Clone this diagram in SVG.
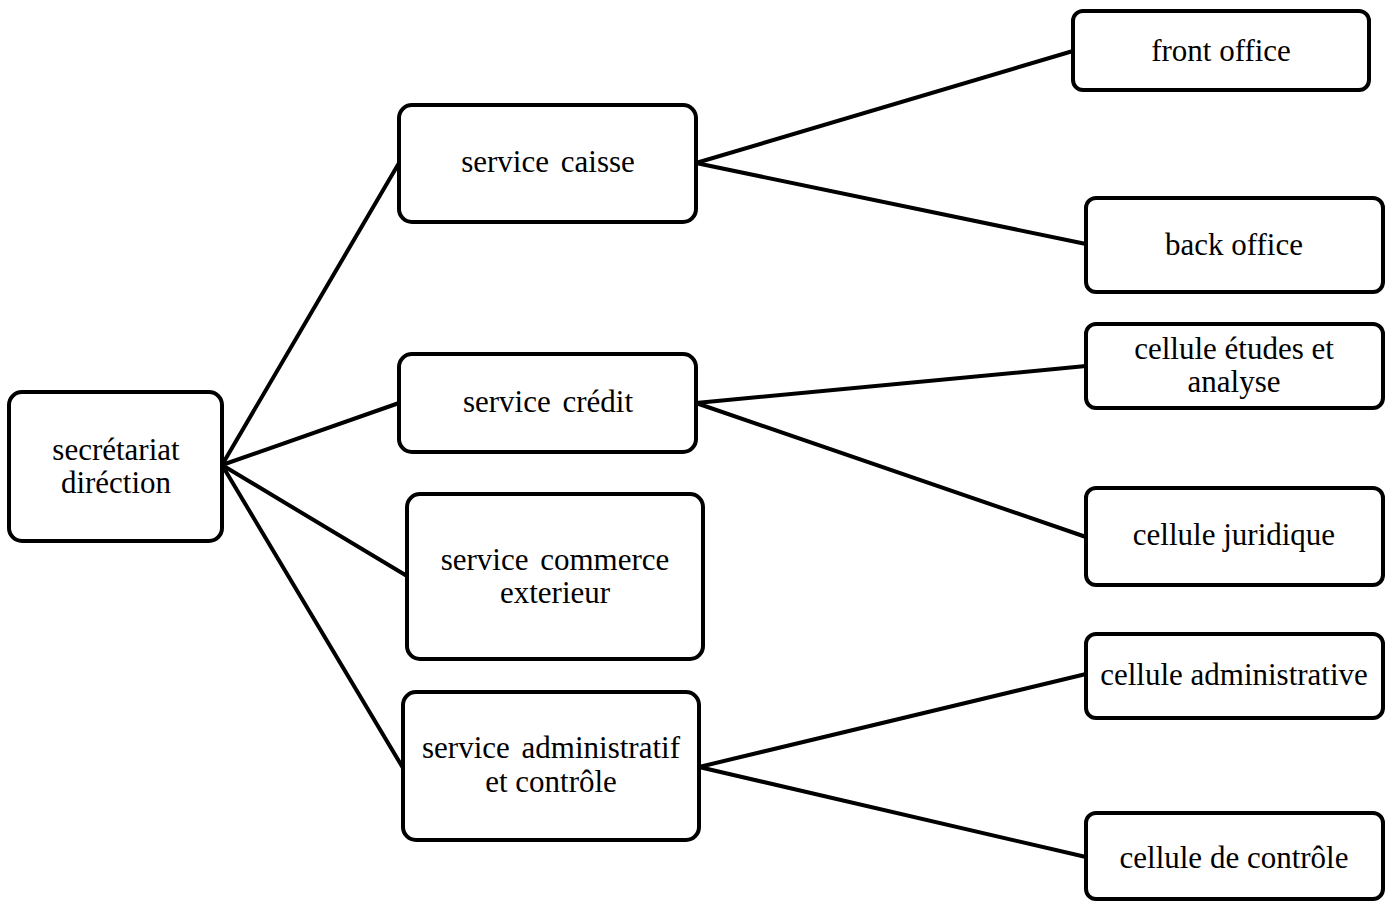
<svg xmlns="http://www.w3.org/2000/svg" width="1391" height="902" viewBox="0 0 1391 902">
<style>
.box{fill:#fff;stroke:#000;stroke-width:4}
.lbl{font-family:'Liberation Serif','Times New Roman','DejaVu Serif',serif;font-size:31px;fill:#000;text-anchor:middle}
.w{word-spacing:4px}
.con line{stroke:#000;stroke-width:4;stroke-linecap:round}
</style>
<rect width="1391" height="902" fill="#fff"/>
<g class="con" id="connectors">
<line x1="222" y1="465" x2="399" y2="163"/>
<line x1="222" y1="465" x2="399" y2="403"/>
<line x1="222" y1="465" x2="407" y2="576"/>
<line x1="222" y1="465" x2="403" y2="768"/>
<line x1="696" y1="163" x2="1073" y2="51"/>
<line x1="696" y1="163" x2="1086" y2="244"/>
<line x1="696" y1="403" x2="1086" y2="366"/>
<line x1="696" y1="403" x2="1086" y2="537"/>
<line x1="699" y1="767" x2="1086" y2="674"/>
<line x1="699" y1="767" x2="1086" y2="857"/>
</g>
<g id="n-secretariat"><rect class="box" x="9" y="392" width="213" height="149" rx="13"/><text class="lbl" x="116" y="460">secrétariat</text><text class="lbl" x="116" y="493">diréction</text></g>
<g id="n-caisse"><rect class="box" x="399" y="105" width="297" height="117" rx="13"/><text class="lbl w" x="548" y="172">service caisse</text></g>
<g id="n-credit"><rect class="box" x="399" y="354" width="297" height="98" rx="13"/><text class="lbl w" x="548" y="412">service crédit</text></g>
<g id="n-commerce"><rect class="box" x="407" y="494" width="296" height="165" rx="13"/><text class="lbl w" x="555" y="570">service commerce</text><text class="lbl" x="555" y="603">exterieur</text></g>
<g id="n-admin"><rect class="box" x="403" y="692" width="296" height="148" rx="13"/><text class="lbl w" x="551" y="758">service administratif</text><text class="lbl" x="551" y="792">et contrôle</text></g>
<g id="n-front"><rect class="box" x="1073" y="11" width="296" height="79" rx="10"/><text class="lbl" x="1221" y="61">front office</text></g>
<g id="n-back"><rect class="box" x="1086" y="198" width="297" height="94" rx="10"/><text class="lbl" x="1234" y="255">back office</text></g>
<g id="n-etudes"><rect class="box" x="1086" y="324" width="297" height="84" rx="10"/><text class="lbl" x="1234" y="359">cellule études et</text><text class="lbl" x="1234" y="392">analyse</text></g>
<g id="n-juridique"><rect class="box" x="1086" y="488" width="297" height="97" rx="10"/><text class="lbl" x="1234" y="545">cellule juridique</text></g>
<g id="n-administrative"><rect class="box" x="1086" y="634" width="297" height="84" rx="10"/><text class="lbl" x="1234" y="685">cellule administrative</text></g>
<g id="n-controle"><rect class="box" x="1086" y="813" width="297" height="86" rx="10"/><text class="lbl" x="1234" y="868">cellule de contrôle</text></g>
</svg>
